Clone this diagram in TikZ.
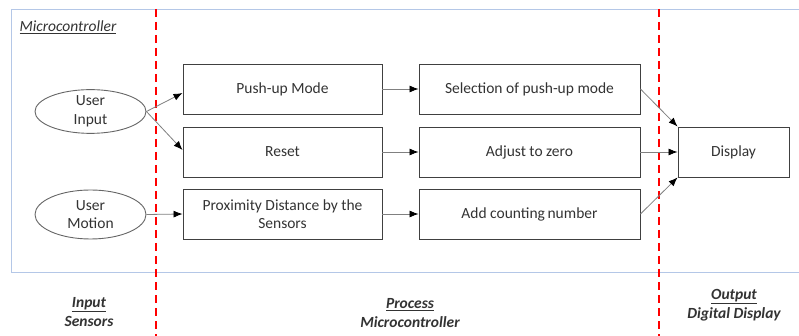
\documentclass[tikz,border=0pt]{standalone}
\usepackage{fontspec}
\setmainfont{Carlito}
\usetikzlibrary{arrows.meta,shapes.geometric}
\definecolor{txt}{HTML}{333333}
\definecolor{frm}{HTML}{B4C7E7}
\definecolor{bdr}{HTML}{404040}
\definecolor{cn}{HTML}{808080}
\tikzset{
  every node/.style={font=\fontsize{15.5}{18.5}\selectfont, text=txt},
  pbox/.style={draw=bdr, line width=0.9pt, rectangle, minimum height=50pt, align=center, inner sep=2pt},
  oval/.style={draw=cn!80!black, line width=0.9pt, ellipse, minimum width=111pt, align=center, inner sep=0pt},
  conn/.style={draw=cn, line width=0.8pt, -{Latex[length=9pt,width=7pt,black]}},
  sep/.style={draw=red, line width=1.6pt, dash pattern=on 8pt off 5pt},
  lbl/.style={align=center, font=\fontsize{15.5}{19}\selectfont\bfseries\itshape}
}
\begin{document}
\begin{tikzpicture}[x=1pt,y=-1pt]
\useasboundingbox (0,0) rectangle (799,336);
\fill[white] (0,0) rectangle (799,336);
\draw[frm, line width=0.9pt] (805,9.5) -- (11.5,9.5) -- (11.5,272) -- (805,272);
\node[anchor=west, font=\fontsize{15.5}{18.5}\selectfont\itshape] (mc) at (16,27) {\underline{Microcontroller}};
% boxes
\node[pbox, minimum width=199pt] (push) at (282.5,89) {Push-up Mode};
\node[pbox, minimum width=199pt] (reset) at (282.5,152) {Reset};
\node[pbox, minimum width=199pt] (prox) at (282.5,214) {Proximity Distance by the\\Sensors};
\node[pbox, minimum width=221pt] (sel) at (529.5,89) {Selection of push-up mode};
\node[pbox, minimum width=221pt] (adj) at (529.5,152) {Adjust to zero};
\node[pbox, minimum width=221pt] (add) at (529.5,214) {Add counting\,number};
\node[pbox, minimum width=111pt] (disp) at (733.5,152) {Display};
\node[oval, minimum height=43pt] (ui) at (90.5,111.5) {User\\Input};
\node[oval, minimum height=49pt] (um) at (90.5,214.5) {User\\Motion};
% separators
\coordinate (s1t) at (156,9);
\coordinate (s1b) at (156,336);
\coordinate (s2t) at (659,9);
\coordinate (s2b) at (659,336);
\draw[sep] (s1t) -- (s1b);
\draw[sep] (s2t) -- (s2b);
% connectors
\draw[conn] (ui.east) -- ([yshift=-4pt]push.west);
\draw[conn] (ui.east) -- ([yshift=2pt]reset.west);
\draw[conn] (um.east) -- (prox.west);
\draw[conn] (push.east) -- (sel.west);
\draw[conn] (reset.east) -- (adj.west);
\draw[conn] (prox.east) -- (add.west);
\draw[conn] (sel.east) -- (disp.north west);
\draw[conn] (adj.east) -- (disp.west);
\draw[conn] (add.east) -- (disp.south west);
% bottom labels
\node[lbl] (l1) at (89,312) {\underline{Input}\\Sensors};
\node[lbl] (l2) at (410,313) {\underline{Process}\\Microcontroller};
\node[lbl] (l3) at (734,305.5) {\underline{Output}\\Digital Display};
\end{tikzpicture}
\end{document}
